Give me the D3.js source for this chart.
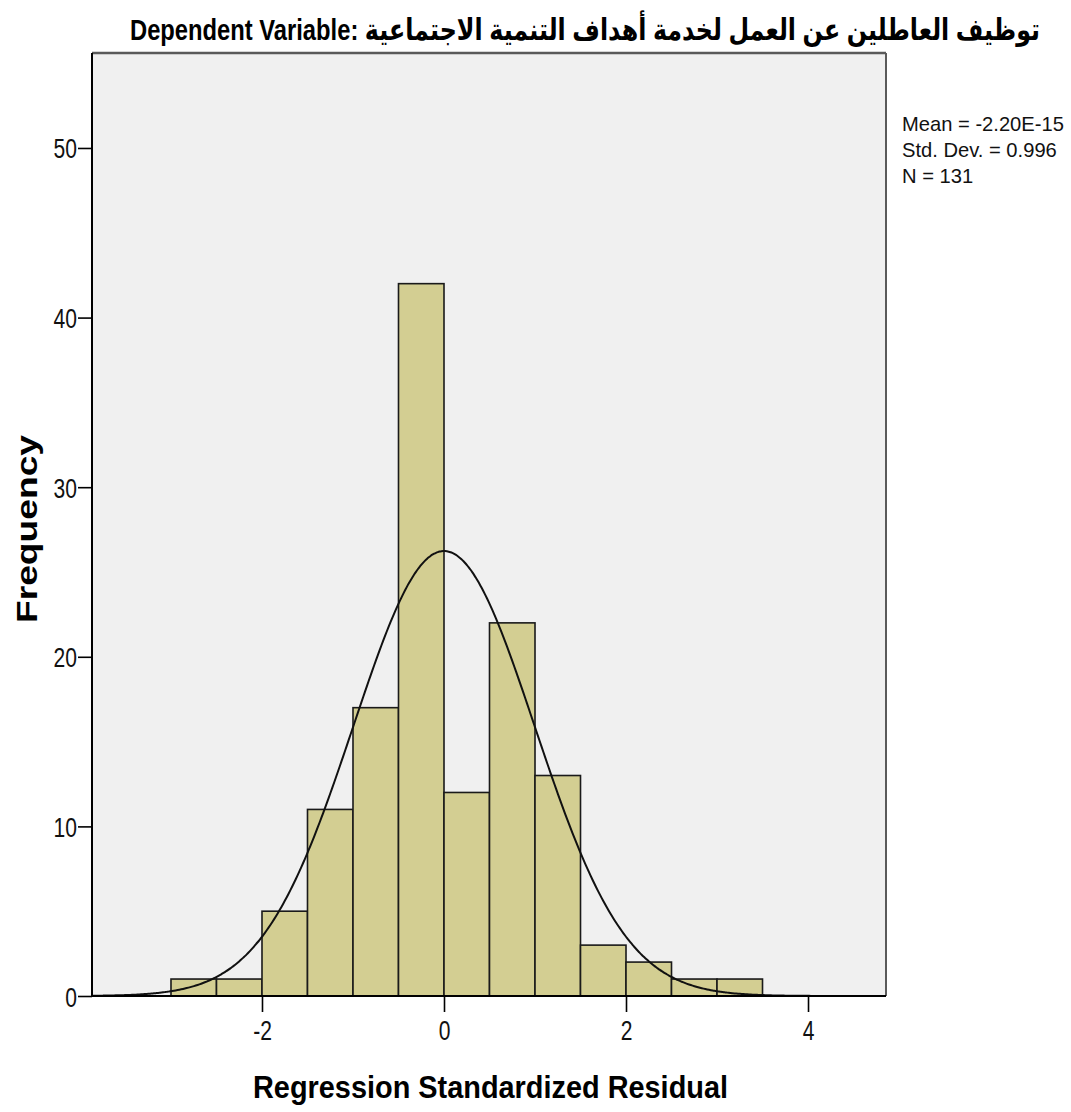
<!DOCTYPE html>
<html>
<head>
<meta charset="utf-8">
<script src="https://cdn.jsdelivr.net/npm/d3@7"></script>
<style>
  html, body { margin: 0; padding: 0; background: #ffffff; }
  svg { display: block; }
</style>
</head>
<body>
<svg id="chart" width="1071" height="1112"></svg>
<script>
// Histogram of regression standardized residuals (bin width 0.5)
const binStarts = [-3, -2.5, -2, -1.5, -1, -0.5, 0, 0.5, 1, 1.5, 2, 2.5, 3];
const binCounts = [1, 1, 5, 11, 17, 42, 12, 22, 13, 3, 2, 1, 1];
const binWidth = 0.5;

// Summary statistics of the residuals
const statMean = -2.20e-15;
const statSD = 0.996;
const statN = 131;
const statLabels = ["Mean = -2.20E-15", "Std. Dev. = 0.996", "N = 131"];

const xTicks = [-2, 0, 2, 4];
const yTicks = [0, 10, 20, 30, 40, 50];

const titleText = "Dependent Variable: توظيف العاطلين عن العمل لخدمة أهداف التنمية الاجتماعية";
const xTitle = "Regression Standardized Residual";
const yTitle = "Frequency";

const svg = d3.select("#chart");
const plot = { left: 92, right: 886, top: 53, bottom: 996 };
const sans = "'Liberation Sans', Arial, sans-serif";

const x = d3.scaleLinear().domain([-3.868, 4.857]).range([plot.left, plot.right]);
const y = d3.scaleLinear().domain([0, 55.6]).range([plot.bottom, plot.top]);

// plot background
svg.append("rect")
  .attr("x", plot.left).attr("y", plot.top)
  .attr("width", plot.right - plot.left).attr("height", plot.bottom - plot.top)
  .attr("fill", "#f0f0f0");

// frame: top and right edges
svg.append("line").attr("x1", plot.left).attr("x2", plot.right)
  .attr("y1", plot.top).attr("y2", plot.top)
  .attr("stroke", "#5a5a5a").attr("stroke-width", 2.5);
svg.append("line").attr("x1", plot.right).attr("x2", plot.right)
  .attr("y1", plot.top).attr("y2", plot.bottom)
  .attr("stroke", "#5a5a5a").attr("stroke-width", 2);

// bars
const bins = binStarts.map((s, i) => ({ x0: s, x1: s + binWidth, n: binCounts[i] }));
svg.append("g").selectAll("rect").data(bins).join("rect")
  .attr("x", d => x(d.x0))
  .attr("y", d => y(d.n))
  .attr("width", d => x(d.x1) - x(d.x0))
  .attr("height", d => y(0) - y(d.n))
  .attr("fill", "#d3ce92")
  .attr("stroke", "#1a1a1a")
  .attr("stroke-width", 1.6);

// fitted normal curve scaled to counts
const pdf = v => Math.exp(-0.5 * ((v - statMean) / statSD) ** 2) / (statSD * Math.sqrt(2 * Math.PI));
const curvePts = d3.range(x.domain()[0], x.domain()[1] + 1e-9, 0.02)
  .map(v => [v, statN * binWidth * pdf(v)]);
svg.append("path")
  .datum(curvePts)
  .attr("fill", "none")
  .attr("stroke", "#111")
  .attr("stroke-width", 2)
  .attr("d", d3.line().x(d => x(d[0])).y(d => y(d[1])).curve(d3.curveBasis));

// axes
const fmt = d => String(d);
const xAxis = svg.append("g")
  .attr("transform", `translate(0,${plot.bottom})`)
  .call(d3.axisBottom(x).tickValues(xTicks).tickSize(16).tickFormat(fmt));
xAxis.select(".domain").remove();
xAxis.append("line").attr("x1", plot.left).attr("x2", plot.right)
  .attr("stroke", "#000").attr("stroke-width", 2);
xAxis.selectAll(".tick line").attr("stroke", "#000").attr("stroke-width", 1.6);
xAxis.selectAll(".tick text")
  .attr("y", 0).attr("dy", null)
  .attr("transform", "translate(0,44) scale(0.78,1)")
  .attr("fill", "#111")
  .style("font-family", sans)
  .style("font-size", "27px");

const yAxis = svg.append("g")
  .attr("transform", `translate(${plot.left},0)`)
  .call(d3.axisLeft(y).tickValues(yTicks).tickSize(14).tickFormat(fmt));
yAxis.select(".domain").remove();
yAxis.append("line").attr("y1", plot.top).attr("y2", plot.bottom)
  .attr("stroke", "#000").attr("stroke-width", 2);
yAxis.selectAll(".tick line").attr("stroke", "#000").attr("stroke-width", 1.6);
yAxis.selectAll(".tick text")
  .attr("x", 0).attr("dy", null)
  .attr("transform", "translate(-15,10) scale(0.78,1)")
  .attr("fill", "#111")
  .style("font-family", sans)
  .style("font-size", "27px");

// statistics box
svg.append("g").selectAll("text").data(statLabels).join("text")
  .attr("transform", (d, i) => `translate(902,${131 + i * 26}) scale(0.96,1)`)
  .attr("fill", "#111")
  .style("font-family", sans)
  .style("font-size", "21px")
  .text(d => d);

// title: narrow glyphs, stretched vertically
svg.append("text")
  .attr("transform", "translate(130,40) scale(1,1.36)")
  .attr("x", 0).attr("y", 0)
  .attr("direction", "ltr")
  .attr("textLength", 910)
  .attr("lengthAdjust", "spacingAndGlyphs")
  .attr("fill", "#000")
  .style("font-family", "'Liberation Sans', 'DejaVu Sans', sans-serif")
  .style("font-weight", "bold")
  .style("font-size", "22px")
  .text(titleText);

// axis titles
svg.append("text")
  .attr("x", 253).attr("y", 1098)
  .attr("textLength", 475)
  .attr("lengthAdjust", "spacingAndGlyphs")
  .attr("fill", "#000")
  .style("font-family", sans)
  .style("font-weight", "bold")
  .style("font-size", "32px")
  .text(xTitle);

svg.append("text")
  .attr("transform", "translate(37,623) rotate(-90)")
  .attr("textLength", 188)
  .attr("lengthAdjust", "spacingAndGlyphs")
  .attr("fill", "#000")
  .style("font-family", sans)
  .style("font-weight", "bold")
  .style("font-size", "30px")
  .text(yTitle);
</script>
</body>
</html>
